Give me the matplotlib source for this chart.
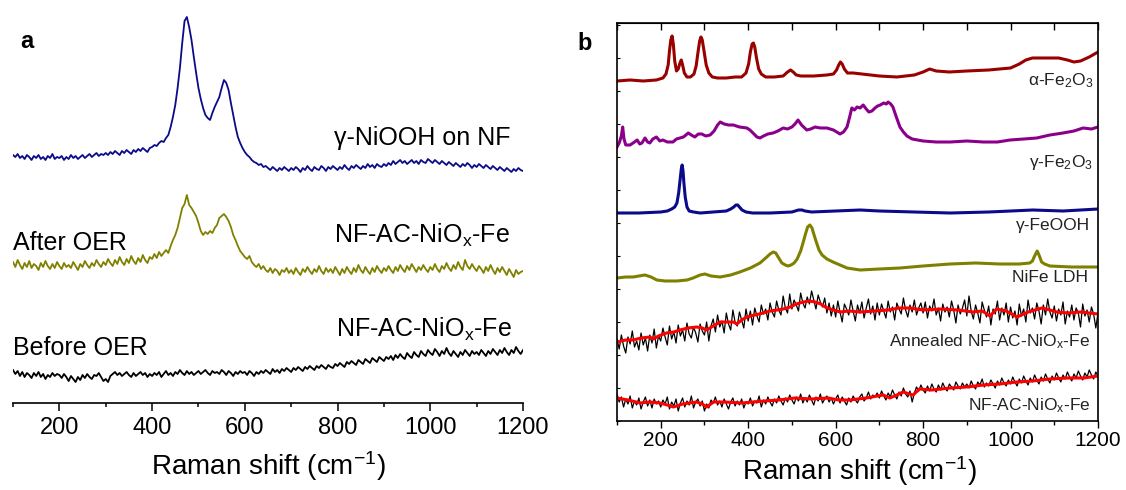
import numpy as np
import matplotlib
matplotlib.use('Agg')
import matplotlib.pyplot as plt
from matplotlib.ticker import MultipleLocator

plt.rcParams['font.family'] = ['Liberation Sans', 'DejaVu Sans']
plt.rcParams['mathtext.fontset'] = 'custom'
plt.rcParams['mathtext.rm'] = 'Liberation Sans'
plt.rcParams['mathtext.it'] = 'Liberation Sans:italic'

W, H = 1126, 490

# ---- panel a: spectra sampled every 5 cm-1 from 100 to 1200 (offset intensities, a.u.)
A_SHIFT = np.arange(100, 1201, 5)

NIOOH = [
    248, 246, 249, 245, 247, 244, 248, 246, 243, 247, 245, 248, 244, 246, 243, 247, 245, 249, 244, 246,
    245, 247, 243, 246, 244, 248, 245, 247, 244, 246, 248, 245, 247, 249, 246, 248, 250, 247, 249, 248,
    250, 248, 251, 249, 252, 250, 248, 252, 250, 253, 251, 249, 253, 251, 254, 252, 255, 253, 251, 255,
    256, 258, 257, 260, 262, 261, 265, 268, 276, 286, 298, 315, 335, 360, 382, 386, 376, 363, 346, 330,
    315, 304, 295, 288, 285, 283, 290, 296, 301, 306, 315, 323, 320, 313, 300, 288, 276, 266, 260, 255,
    251, 248, 246, 243, 241, 240, 238, 239, 236, 237, 235, 233, 236, 234, 232, 235, 233, 236, 234, 232,
    235, 233, 236, 234, 231, 235, 233, 237, 234, 232, 236, 234, 233, 237, 235, 232, 236, 234, 237, 235,
    233, 236, 234, 238, 235, 233, 237, 235, 238, 236, 234, 237, 235, 239, 236, 238, 235, 239, 237, 236,
    239, 237, 240, 238, 242, 239, 241, 243, 240, 242, 239, 241, 243, 240, 242, 239, 243, 241, 240, 244,
    242, 240, 243, 241, 239, 242, 240, 238, 241, 239, 237, 240, 238, 236, 239, 237, 240, 238, 235, 238,
    236, 239, 237, 235, 238, 236, 234, 237, 235, 233, 236, 234, 232, 235, 233, 231, 234, 232, 235, 233,
    232,
]

AFTER_OER = [
    141, 136, 143, 138, 134, 140, 136, 142, 135, 139, 137, 133, 140, 136, 142, 137, 134, 139, 135, 141,
    137, 134, 140, 136, 138, 135, 141, 137, 133, 139, 136, 142, 138, 135, 140, 137, 143, 139, 136, 141,
    138, 144, 140, 137, 143, 139, 146, 141, 138, 144, 140, 147, 142, 139, 145, 141, 148, 143, 140, 146,
    144, 149, 145, 151, 147, 150, 153, 150, 157, 163, 168, 175, 185, 195, 199, 208, 198, 195, 191, 187,
    180, 172, 168, 171, 169, 172, 170, 175, 178, 185, 187, 189, 186, 182, 176, 168, 163, 157, 152, 149,
    146, 144, 147, 141, 138, 136, 139, 134, 137, 133, 131, 135, 130, 134, 132, 128, 133, 131, 135, 130,
    133, 129, 135, 131, 128, 134, 131, 136, 132, 129, 134, 131, 137, 132, 129, 135, 131, 134, 130, 136,
    132, 128, 134, 130, 136, 132, 129, 135, 131, 138, 133, 130, 136, 132, 129, 135, 131, 137, 133, 130,
    135, 132, 137, 133, 130, 136, 132, 138, 134, 131, 137, 133, 139, 135, 131, 136, 133, 138, 134, 131,
    136, 133, 139, 134, 131, 137, 134, 140, 135, 132, 138, 134, 141, 136, 133, 143, 137, 134, 139, 135,
    132, 137, 134, 130, 136, 132, 138, 133, 129, 135, 131, 136, 132, 128, 134, 130, 126, 133, 129, 131,
    132,
]

BEFORE_OER = [
    33, 29, 32, 27, 31, 26, 30, 28, 25, 30, 27, 31, 26, 29, 24, 28, 26, 30, 27, 29,
    28, 25, 29, 26, 22, 27, 24, 21, 26, 23, 28, 25, 29, 26, 24, 28, 27, 30, 26, 22,
    24, 21, 27, 29, 31, 28, 30, 27, 29, 31, 28, 26, 30, 27, 29, 31, 28, 30, 26, 29,
    27, 30, 28, 31, 26, 29, 32, 28, 30, 27, 31, 29, 33, 30, 28, 32, 29, 31, 28, 30,
    32, 29, 31, 33, 30, 28, 32, 30, 31, 29, 33, 31, 28, 32, 30, 27, 31, 29, 32, 30,
    31, 28, 32, 30, 27, 31, 29, 32, 30, 33, 31, 29, 34, 31, 33, 30, 34, 32, 35, 33,
    31, 35, 33, 36, 34, 32, 36, 34, 37, 35, 33, 37, 35, 38, 36, 34, 38, 36, 35, 39,
    37, 40, 38, 36, 41, 39, 42, 40, 38, 43, 41, 39, 44, 42, 40, 45, 43, 41, 46, 44,
    42, 46, 44, 47, 43, 48, 45, 49, 46, 44, 50, 47, 45, 51, 48, 46, 52, 49, 47, 53,
    50, 48, 54, 51, 47, 52, 49, 55, 50, 47, 52, 49, 46, 51, 48, 53, 50, 47, 52, 49,
    51, 48, 53, 50, 47, 52, 49, 54, 51, 48, 53, 50, 55, 51, 48, 53, 50, 56, 52, 49,
    53,
]

# ---- panel b: reference compounds (offset intensities, a.u.)
ALPHA_X = [100, 130, 160, 190, 205, 212, 217, 220, 223, 226, 229, 232, 236, 240, 244, 247, 250, 254,
           260, 268, 276, 281, 285, 289, 292, 295, 299, 304, 310, 318, 330, 350, 370, 385, 395, 401,
           405, 409, 412, 415, 419, 424, 430, 440, 460, 480, 490, 497, 503, 510, 520, 550, 580, 595,
           602, 607, 611, 615, 620, 627, 640, 660, 700, 740, 780, 800, 815, 830, 860, 900, 950, 1000,
           1020, 1035, 1050, 1070, 1090, 1110, 1130, 1145, 1160, 1180, 1200]
ALPHA_Y = [340, 341, 340, 341, 343, 347, 356, 370, 381, 385, 376, 360, 350, 352, 358, 361, 356, 348,
           344, 344, 347, 355, 368, 380, 384, 381, 370, 356, 348, 344, 343, 343, 344, 344, 348, 357,
           369, 377, 378, 374, 363, 352, 347, 344, 344, 345, 349, 351, 349, 346, 345, 345, 346, 347,
           351, 356, 359, 357, 352, 348, 348, 347, 345, 344, 346, 349, 352, 350, 349, 350, 351, 353,
           357, 361, 363, 363, 363, 363, 361, 359, 360, 364, 369]

GAMMA_X = [100, 105, 110, 113, 116, 120, 130, 140, 146, 152, 157, 164, 170, 175, 182, 190, 198, 205,
           215, 228, 236, 244, 252, 263, 270, 278, 286, 294, 303, 313, 322, 330, 336, 345, 355, 366,
           380, 397, 404, 411, 420, 427, 435, 445, 457, 468, 480, 490, 500, 507, 514, 522, 534, 543,
           553, 565, 580, 595, 610, 618, 626, 632, 637, 643, 649, 656, 663, 670, 676, 683, 690, 696,
           702, 710, 716, 720, 726, 731, 738, 747, 755, 763, 775, 800, 830, 862, 900, 938, 970, 999,
           1030, 1060, 1090, 1120, 1145, 1166, 1185, 1200]
GAMMA_Y = [274, 278, 285, 294, 282, 276, 276, 279, 281, 277, 278, 283, 279, 278, 282, 284, 280, 281,
           279, 279, 282, 283, 284, 288, 286, 284, 287, 287, 285, 286, 290, 296, 299, 297, 296, 296,
           294, 293, 291, 288, 284, 283, 285, 287, 288, 290, 293, 292, 294, 297, 301, 296, 291, 292,
           294, 293, 293, 291, 287, 289, 294, 304, 313, 311, 314, 313, 316, 312, 309, 310, 313, 315,
           316, 318, 317, 319, 317, 314, 305, 294, 289, 285, 282, 280, 279, 279, 280, 279, 279, 281,
           282, 283, 286, 288, 290, 293, 292, 294]

FEOOH_X = [100, 150, 200, 215, 225, 232, 237, 241, 244, 247, 249, 251, 253, 256, 260, 265, 275, 290,
           320, 350, 360, 367, 372, 376, 380, 386, 395, 410, 450, 500, 515, 523, 530, 545, 600, 656,
           700, 780, 862, 950, 1051, 1120, 1200]
FEOOH_Y = [208, 208, 209, 210, 212, 214, 218, 228, 240, 252, 256, 250, 238, 224, 214, 210, 209, 208,
           209, 210, 212, 214, 216, 216, 214, 211, 209, 208, 208, 209, 211, 211, 210, 209, 210, 211,
           210, 209, 208, 209, 211, 210, 212]

LDH_X = [100, 120, 137, 150, 164, 178, 191, 210, 237, 260, 274, 290, 301, 315, 336, 360, 381, 405,
         427, 440, 450, 457, 463, 470, 477, 485, 491, 498, 505, 512, 520, 526, 531, 536, 541, 546,
         550, 555, 562, 569, 580, 594, 610, 626, 656, 700, 747, 800, 862, 920, 976, 1020, 1044, 1050,
         1055, 1061, 1066, 1071, 1078, 1090, 1140, 1200]
LDH_Y = [143, 144, 144, 145, 146, 144, 141, 140, 140, 141, 143, 146, 147, 145, 144, 146, 149, 153,
         158, 163, 167, 169, 168, 163, 158, 156, 155, 156, 158, 162, 170, 179, 187, 194, 196, 193,
         187, 180, 171, 166, 162, 159, 156, 153, 151, 152, 153, 155, 157, 158, 157, 157, 158, 160,
         165, 170, 165, 159, 157, 155, 154, 154]

# raw (5 cm-1 steps) and smoothed traces of the two electrode samples
B_SHIFT = np.arange(100, 1201, 5)

ANNEALED_RAW = [
    82, 72, 86, 75, 68, 84, 77, 90, 74, 80, 71, 88, 76, 83, 70, 86, 78, 92, 73, 85,
    80, 93, 84, 76, 95, 82, 89, 78, 96, 85, 91, 80, 98, 87, 83, 94, 88, 79, 97, 90,
    86, 99, 80, 95, 102, 89, 106, 94, 100, 88, 108, 97, 91, 111, 99, 95, 109, 101, 93, 112,
    100, 110, 96, 113, 105, 99, 116, 107, 112, 101, 118, 109, 104, 120, 111, 106, 125, 113, 108, 127,
    112, 121, 116, 110, 128, 118, 113, 124, 117, 130, 121, 112, 126, 119, 114, 123, 108, 118, 105, 116,
    104, 120, 109, 99, 117, 112, 106, 121, 110, 100, 116, 108, 119, 103, 113, 122, 107, 115, 101, 118,
    106, 117, 110, 103, 120, 109, 114, 101, 118, 112, 107, 123, 111, 104, 116, 109, 121, 106, 113, 118,
    108, 119, 103, 115, 110, 122, 106, 113, 100, 117, 109, 114, 104, 120, 111, 98, 116, 107, 113, 121,
    105, 125, 110, 102, 116, 108, 98, 119, 111, 104, 115, 96, 112, 107, 120, 101, 113, 106, 118, 99,
    114, 103, 110, 96, 117, 105, 112, 99, 121, 108, 113, 102, 118, 110, 97, 116, 106, 122, 109, 103,
    115, 100, 112, 106, 119, 97, 110, 104, 116, 101, 113, 108, 94, 117, 105, 111, 99, 114, 107, 93,
    108,
]
ANN_SMOOTH_X = [100, 120, 137, 155, 175, 183, 195, 213, 230, 244, 262, 282, 295, 305, 320, 336, 352,
                366, 374, 385, 397, 415, 435, 450, 466, 480, 496, 510, 526, 540, 553, 566, 580, 595,
                610, 630, 656, 690, 720, 745, 770, 800, 840, 880, 914, 935, 953, 968, 990, 1015, 1040,
                1072, 1090, 1106, 1130, 1160, 1200]
ANN_SMOOTH_Y = [79, 81, 81, 83, 84, 82, 85, 88, 89, 91, 93, 94, 93, 91, 95, 99, 99, 99, 97, 101, 104,
                106, 108, 110, 111, 112, 114, 117, 119, 120, 119, 117, 113, 111, 109, 110, 109, 110,
                111, 113, 113, 111, 112, 111, 109, 110, 105, 112, 110, 104, 109, 113, 111, 109, 108,
                109, 107]

ASPREP_RAW = [
    27, 19, 24, 14, 22, 17, 25, 13, 20, 16, 23, 12, 19, 24, 15, 21, 13, 22, 17, 20,
    14, 21, 17, 24, 12, 19, 15, 22, 10, 18, 23, 14, 20, 16, 25, 13, 19, 22, 15, 20,
    10, 17, 13, 21, 18, 24, 16, 20, 14, 22, 17, 12, 19, 23, 15, 20, 16, 22, 13, 19,
    17, 23, 15, 20, 18, 25, 14, 21, 17, 24, 19, 15, 22, 18, 25, 20, 16, 23, 19, 26,
    21, 17, 24, 20, 27, 18, 23, 19, 26, 21, 16, 24, 20, 27, 18, 22, 25, 19, 23, 17,
    22, 26, 18, 24, 20, 16, 23, 19, 25, 21, 18, 24, 27, 20, 23, 29, 22, 26, 24, 28,
    23, 30, 25, 21, 28, 24, 31, 26, 22, 29, 25, 33, 27, 24, 30, 19, 28, 34, 30, 36,
    31, 28, 35, 30, 37, 32, 29, 36, 31, 38, 33, 30, 37, 34, 31, 39, 35, 32, 38, 34,
    37, 33, 40, 35, 32, 39, 36, 42, 34, 38, 35, 41, 37, 33, 40, 36, 43, 38, 35, 41,
    37, 44, 39, 35, 42, 38, 45, 40, 36, 43, 39, 46, 41, 37, 44, 40, 47, 42, 38, 45,
    41, 48, 43, 39, 46, 42, 49, 44, 40, 47, 43, 50, 45, 41, 48, 44, 51, 46, 42, 49,
    45,
]
ASPREP_SMOOTH_X = [100, 125, 153, 175, 198, 215, 229, 250, 282, 295, 305, 321, 345, 385, 410, 438,
                   470, 507, 545, 583, 607, 633, 670, 709, 724, 740, 754, 777, 792, 820, 862, 900,
                   938, 975, 1014, 1050, 1090, 1130, 1167, 1200]
ASPREP_SMOOTH_Y = [23, 21, 18, 19, 18, 16, 14, 17, 19, 17, 14, 19, 19, 18, 19, 20, 21, 23, 22, 23,
                   21, 21, 23, 26, 23, 26, 29, 26, 32, 31, 33, 34, 36, 37, 39, 40, 42, 43, 43, 45]

for arr in (NIOOH, AFTER_OER, BEFORE_OER, ANNEALED_RAW, ASPREP_RAW):
    assert len(arr) == 221, len(arr)
for xs, ys in ((ALPHA_X, ALPHA_Y), (GAMMA_X, GAMMA_Y), (FEOOH_X, FEOOH_Y), (LDH_X, LDH_Y),
               (ANN_SMOOTH_X, ANN_SMOOTH_Y), (ASPREP_SMOOTH_X, ASPREP_SMOOTH_Y)):
    assert len(xs) == len(ys), (len(xs), len(ys))

C_NAVY = '#0a0a8a'
C_OLIVE = '#808000'
C_WINE = '#990000'
C_PURPLE = '#8b008b'

XLABEL = 'Raman shift (cm$^{-1}$)'
NIOX = 'NF-AC-NiO$_{\\mathrm{x}}$-Fe'


def px_box(left, top, right, bottom):
    return [left / W, 1 - bottom / H, (right - left) / W, (bottom - top) / H]


def fig_text(x, y, s, **kw):
    fig.text(x / W, 1 - y / H, s, va='baseline', **kw)


fig = plt.figure(figsize=(W / 100, H / 100), dpi=100)

# ---------------- panel a
ax1 = fig.add_axes(px_box(13, 10, 523, 403))
ax1.plot(A_SHIFT, NIOOH, color=C_NAVY, lw=1.3)
ax1.plot(A_SHIFT, AFTER_OER, color=C_OLIVE, lw=1.3)
ax1.plot(A_SHIFT, BEFORE_OER, color='black', lw=1.3)
ax1.set_xlim(100, 1200)
ax1.set_ylim(0, 393)
for side in ('top', 'left', 'right'):
    ax1.spines[side].set_visible(False)
ax1.spines['bottom'].set_linewidth(1.2)
ax1.set_yticks([])
ax1.xaxis.set_major_locator(MultipleLocator(200))
ax1.xaxis.set_minor_locator(MultipleLocator(100))
ax1.tick_params(axis='x', which='major', direction='out', length=6, width=1.1,
                labelsize=17, pad=4)
ax1.tick_params(axis='x', which='minor', direction='out', length=3, width=1.1)

fig_text(20, 48, 'a', fontsize=17, fontweight='bold')
fig_text(510, 145, 'γ-NiOOH on NF', fontsize=18, ha='right')
fig_text(510, 243, NIOX, fontsize=18, ha='right')
fig_text(512, 337, NIOX, fontsize=18, ha='right')
fig_text(13, 250, 'After OER', fontsize=18)
fig_text(13, 355, 'Before OER', fontsize=18)
fig_text(268, 475, XLABEL, fontsize=20, ha='center')

# ---------------- panel b
ax2 = fig.add_axes(px_box(617, 23, 1098, 421))
ax2.plot(ALPHA_X, ALPHA_Y, color=C_WINE, lw=2.2)
ax2.plot(GAMMA_X, GAMMA_Y, color=C_PURPLE, lw=2.2)
ax2.plot(FEOOH_X, FEOOH_Y, color=C_NAVY, lw=2.2)
ax2.plot(LDH_X, LDH_Y, color=C_OLIVE, lw=2.2)
ax2.plot(B_SHIFT, ANNEALED_RAW, color='black', lw=0.9)
ax2.plot(ANN_SMOOTH_X, ANN_SMOOTH_Y, color='red', lw=2.2)
ax2.plot(B_SHIFT, ASPREP_RAW, color='black', lw=0.9)
ax2.plot(ASPREP_SMOOTH_X, ASPREP_SMOOTH_Y, color='red', lw=2.2)
ax2.set_xlim(100, 1200)
ax2.set_ylim(0, 398)
for sp in ax2.spines.values():
    sp.set_linewidth(1.2)
ax2.xaxis.set_major_locator(MultipleLocator(200))
ax2.xaxis.set_minor_locator(MultipleLocator(100))
ax2.yaxis.set_major_locator(MultipleLocator(33))
ax2.tick_params(axis='x', which='major', direction='out', length=5, width=1.0,
                labelsize=15, pad=2)
ax2.tick_params(axis='x', which='minor', direction='out', length=3, width=1.0)
ax2.tick_params(axis='y', which='both', direction='in', length=2.5, width=0.8,
                left=True, right=False, labelleft=False)

# inward ticks along the top edge at every 100 cm-1
top = ax2.secondary_xaxis('top')
top.xaxis.set_major_locator(MultipleLocator(100))
top.tick_params(direction='in', length=5, width=1.0, labeltop=False)

fig_text(577, 50, 'b', fontsize=17, fontweight='bold')
lbl = dict(fontsize=12.5, ha='right', color='#222222')
fig_text(1093, 85, 'α-Fe$_2$O$_3$', **lbl)
fig_text(1093, 167, 'γ-Fe$_2$O$_3$', **lbl)
fig_text(1090, 230, 'γ-FeOOH', **lbl)
fig_text(1088, 282, 'NiFe LDH', **lbl)
fig_text(1090, 346, 'Annealed ' + NIOX, **lbl)
fig_text(1091, 410, NIOX, **lbl)
fig_text(859, 480, XLABEL, fontsize=20, ha='center')

fig.savefig('out.png', dpi=100)
